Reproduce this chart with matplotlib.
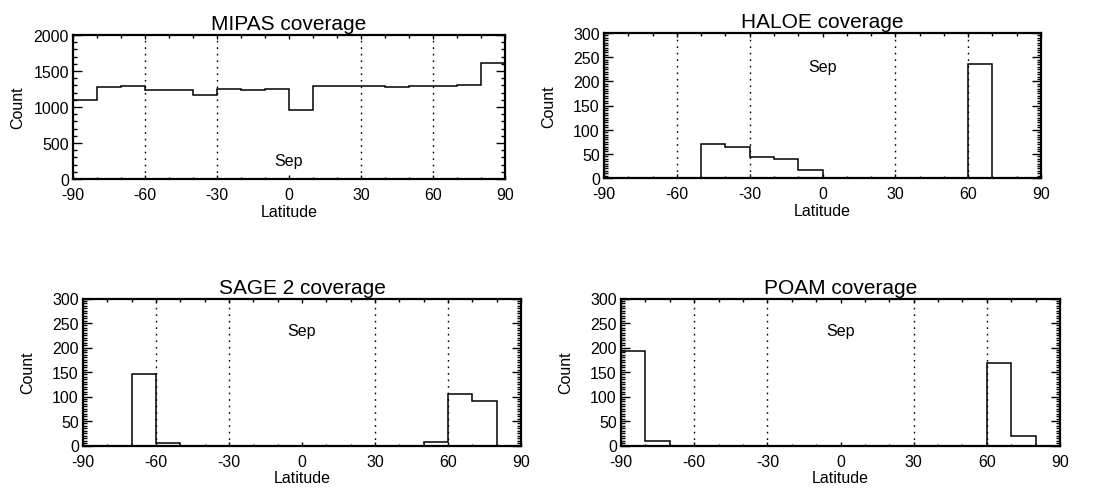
import numpy as np
import matplotlib
matplotlib.use("Agg")
import matplotlib.pyplot as plt
from matplotlib.ticker import MultipleLocator

plt.rcParams['font.family'] = ['Liberation Sans', 'DejaVu Sans']

# ---- data (10-degree latitude bins, -90..90) ----
lat_edges = list(range(-90, 100, 10))
mipas_counts = [1100, 1278, 1287, 1236, 1231, 1167, 1248, 1241, 1253, 958,
                1296, 1298, 1290, 1284, 1288, 1294, 1306, 1605]
haloe_counts = [0, 0, 0, 0, 70, 65, 44, 40, 17, 0,
                0, 0, 0, 0, 0, 235, 0, 0]
sage_counts = [0, 0, 146, 6, 0, 0, 0, 0, 0, 0,
               0, 0, 0, 0, 7, 105, 90, 0]
poam_counts = [193, 9, 0, 0, 0, 0, 0, 0, 0, 0,
               0, 0, 0, 0, 0, 168, 20, 0]

titles = ["MIPAS coverage", "HALOE coverage", "SAGE 2 coverage", "POAM coverage"]
month_label = "Sep"
x_ticks = [-90, -60, -30, 0, 30, 60, 90]
grid_lats = [-60, -30, 30, 60]

W, H = 1097, 489
fig = plt.figure(figsize=(W / 100, H / 100), dpi=100)

# pixel boxes: left, right, top, bottom
boxes = [(73, 505, 36, 180), (604, 1041, 34, 179),
         (83, 521, 299.5, 446.5), (621, 1060, 299.5, 446.5)]
datasets = [mipas_counts, haloe_counts, sage_counts, poam_counts]
ymaxes = [2000, 300, 300, 300]
ymajor = [500, 50, 50, 50]
yminor = [100, 5, 5, 5]
sep_pos = [(0, 0.13), (0, 0.77), (0, 0.78), (0, 0.78)]

for box, counts, title, ymax, ymj, ymn, sp in zip(boxes, datasets, titles, ymaxes,
                                                  ymajor, yminor, sep_pos):
    l, r, t, b = box
    ax = fig.add_axes([l / W, 1 - b / H, (r - l) / W, (b - t) / H])
    ax.stairs(counts, lat_edges, color='black', linewidth=1.1, baseline=0)
    for g in grid_lats:
        ax.axvline(g, color='black', linestyle=(0, (1.2, 3.5)), linewidth=1.0)
    ax.set_xlim(-90, 90)
    ax.set_ylim(0, ymax)
    ax.set_xticks(x_ticks)
    ax.set_xticklabels([str(v) for v in x_ticks])
    ax.xaxis.set_minor_locator(MultipleLocator(10))
    ax.yaxis.set_major_locator(MultipleLocator(ymj))
    ax.yaxis.set_minor_locator(MultipleLocator(ymn))
    ax.tick_params(axis='both', which='both', direction='in', top=True,
                   right=True, width=1.0, labelsize=11.5, color='black')
    ax.tick_params(axis='x', which='major', length=3.0, pad=6)
    ax.tick_params(axis='x', which='minor', length=1.8)
    ax.tick_params(axis='y', which='major', length=6.5, pad=3)
    ax.tick_params(axis='y', which='minor', length=3.2)
    for s in ax.spines.values():
        s.set_linewidth(1.6)
    ax.set_title(title, fontsize=15, pad=4)
    ax.set_xlabel("Latitude", fontsize=11.5, labelpad=1)
    ax.set_ylabel("Count", fontsize=11.5)
    ax.yaxis.set_label_coords(-48 / (r - l), 0.5)
    ax.text(sp[0], sp[1], month_label, transform=ax.get_xaxis_transform(),
            ha='center', va='center', fontsize=11.5)

fig.savefig("out.png", dpi=100)
